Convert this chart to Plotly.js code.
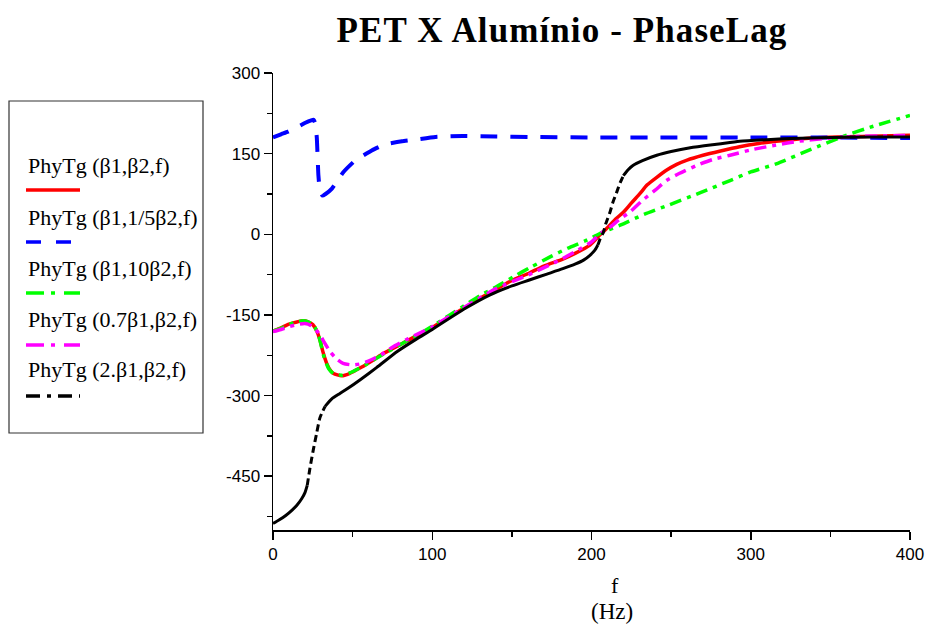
<!DOCTYPE html>
<html><head><meta charset="utf-8">
<script src="https://cdn.plot.ly/plotly-3.0.1.min.js"></script>
<style>
html,body{margin:0;padding:0;background:#fff}
#chart{width:925px;height:628px}
.gtitle{letter-spacing:1.1px}
</style>
</head><body><div id="chart"></div><script>
// ---- data ----
const seriesNames = ["PhyTg (β1,β2,f)", "PhyTg (β1,1/5β2,f)", "PhyTg (β1,10β2,f)", "PhyTg (0.7β1,β2,f)", "PhyTg (2.β1,β2,f)"];

const f_red = [0,5,10,15,19,22,25,27.5,29.5,31.5,33.7,36,38,43,48,52.5,58,63,68,73.5,80,90,100,110,120,130,140,150,161,170,182,190,199,205,210,215,220,225,230.5,235,241,247,253.5,260,270,281,293,305,316,330,345,370,400];
const y_red = [-180,-174,-167,-163,-161,-163,-168,-180,-197,-220,-240,-253,-259,-263,-259,-252,-243,-234,-224,-215,-205,-189,-173,-155,-137,-119,-102,-86,-72,-59,-46,-35,-20,-2,12,28,41,58,76,92,106,119,130,138,147,155,163,169,173,177,180,182,184];

const f_blue = [0,5,9.4,15,20,24,25.5,26.5,27.5,28.5,29.5,31,33,37,44,51.5,62,70,81,89,102,119,140,160,200,250,300,350,400];
const y_blue = [180,186,191,199,207,212,213,207,180,110,80,72,75,85,115,137,156,167,173,176,181,183,182,181,180,180,180,180,179];

const f_green = [0,5,10,15,19,23,26,29,32,35,38,43,48,53,58,63,70,80,90,100,110,120,130,140,151,162,174,185,197,205,218,233,249,268,287,300,316,337,358,377,400];
const y_green = [-180,-175,-168,-163,-161,-164,-171,-192,-228,-250,-259,-262,-258,-251,-243,-234,-222,-205,-189,-171,-152,-133,-114,-98,-79,-61,-42,-26,-11,1,17,37,55,77,100,116,131,157,182,201,221];

const f_mag = [0,5,10,15,20,24,27,29.5,32,35.8,40,44,50,55,59,64,69,75,85,100,120,140,160,180,190,200,205,212,218,224,232,240,247,255,266,276,287,300,316,330,346,370,400];
const y_mag = [-181,-177,-172,-168,-166,-170,-178,-187,-200,-218,-232,-240,-243,-241,-237,-230,-222,-210,-194,-172,-136,-101,-76,-48,-32,-14,0,14,29,41,63,82,100,113,128,139,147,157,166,173,178,182,184];

const f_blk = [0,4,8,12,15,18,20,21.5,23.2,25.3,27.4,29.5,32.7,36.9,42,47.3,55,65,78,90,100,120,136,150,161,172,182,190,195,199,202,204,205.5,207.5,209,211.6,213.5,215.8,218,220,223,226,232,241,250,262,280,293,310,325,350,375,400];
const y_blk = [-538,-531,-523,-513,-504,-492,-481,-467,-435,-401,-370,-341,-320,-306,-296,-286,-270,-248,-218,-195,-177,-139,-113,-96,-85,-74,-64,-55,-48,-39,-30,-20,-8,4,20,41,60,78,96,109,120,128,137,147,154,161,168,173,176,178,180,181,181];

const xTickVals = [0,100,200,300,400];
const yTickVals = [-450,-300,-150,0,150,300];

// ---- layout helpers ----
const PL = 273, PR = 910, PT = 73, PB = 530, W = 925, H = 628;
const px = v => (v - PL) / (PR - PL);
const py = v => (PB - v) / (PB - PT);
function part(fs, ys, lo, hi) {
  const x = [], y = [];
  for (let i = 0; i < fs.length; i++) if (fs[i] >= lo && fs[i] <= hi) { x.push(fs[i]); y.push(ys[i]); }
  return {x, y};
}

const colors = ["#ff0000", "#0000ff", "#00ff00", "#ff00ff", "#000000"];
const traces = [];
traces.push({x: f_red, y: y_red, mode: 'lines', line: {color: colors[0], width: 3.5, shape: 'spline', smoothing: 0.6}, name: seriesNames[0]});
traces.push({x: f_blue, y: y_blue, mode: 'lines', line: {color: colors[1], width: 4, dash: '17px,13px', shape: 'spline', smoothing: 0.4}, name: seriesNames[1]});
traces.push({x: f_green, y: y_green, mode: 'lines', line: {color: colors[2], width: 3.5, dash: '12px,6px,4px,6px', shape: 'spline', smoothing: 0.6}, name: seriesNames[2]});
traces.push({x: f_mag, y: y_mag, mode: 'lines', line: {color: colors[3], width: 3.5, dash: '12px,6px,4px,6px', shape: 'spline', smoothing: 0.6}, name: seriesNames[3]});
// black: solid where flat, dashed on the steep parts
[[0, 21.5, 'solid'], [21.5, 32.7, '7px,4px'], [32.7, 204, 'solid'], [204, 220, '7px,4px'], [220, 400, 'solid']].forEach(s => {
  const p = part(f_blk, y_blk, s[0], s[1]);
  traces.push({x: p.x, y: p.y, mode: 'lines', line: {color: colors[4], width: 3, dash: s[2], shape: 'spline', smoothing: 0.6}, name: seriesNames[4]});
});

// legend drawn as a box with text above a line sample
const legTextY = [165.6, 217.6, 268.6, 319.6, 369.6];
const legLineY = [190, 242, 293, 345, 396];
const legDash = ['solid', '15px,15px', '18px,7px,4px,9px', '18px,7px,4px,9px', '14px,7px,4px,7px'];
const shapes = [{type: 'rect', xref: 'paper', yref: 'paper', x0: px(9), x1: px(203), y0: py(101), y1: py(433), line: {color: '#333', width: 1.2}, fillcolor: 'rgba(0,0,0,0)'}];
const annotations = [];
seriesNames.forEach((n, i) => {
  annotations.push({xref: 'paper', yref: 'paper', x: px(26), y: py(legTextY[i]), xanchor: 'left', yanchor: 'middle', text: n, showarrow: false, font: {family: 'Liberation Serif, Times New Roman, serif', size: 22, color: '#000'}});
  shapes.push({type: 'line', xref: 'paper', yref: 'paper', x0: px(26), x1: px(80), y0: py(legLineY[i]), y1: py(legLineY[i]), line: {color: colors[i], width: 3.5, dash: legDash[i]}});
});
annotations.push({xref: 'paper', yref: 'paper', x: px(615), y: py(585), xanchor: 'center', yanchor: 'middle', text: 'f', showarrow: false, font: {family: 'Liberation Serif, Times New Roman, serif', size: 22, color: '#000'}});
annotations.push({xref: 'paper', yref: 'paper', x: px(612), y: py(611), xanchor: 'center', yanchor: 'middle', text: '(Hz)', showarrow: false, font: {family: 'Liberation Serif, Times New Roman, serif', size: 23, color: '#000'}});

const axisCommon = {
  showgrid: false, zeroline: false, showline: true, linecolor: '#000', linewidth: 1.5,
  ticks: 'outside', ticklen: 8, tickwidth: 1.5, tickcolor: '#000',
  tickfont: {family: 'Liberation Sans, Arial, sans-serif', size: 17, color: '#000'},
  mirror: false
};

const layout = {
  width: W, height: H,
  margin: {l: PL, r: W - PR, t: PT, b: H - PB, pad: 0},
  paper_bgcolor: '#fff', plot_bgcolor: '#fff',
  showlegend: false,
  title: {text: '<b>PET X Alumínio - PhaseLag</b>', x: 562 / W, xanchor: 'center', xref: 'container', y: 1 - 30 / H, yanchor: 'middle', yref: 'container',
          font: {family: 'Liberation Serif, Times New Roman, serif', size: 35, color: '#000'}},
  xaxis: Object.assign({}, axisCommon, {range: [0, 400], tickvals: xTickVals, ticktext: xTickVals.map(String),
          minor: {dtick: 50, tick0: 0, ticks: 'outside', ticklen: 5, tickwidth: 1.5, tickcolor: '#000', showgrid: false}}),
  yaxis: Object.assign({}, axisCommon, {range: [-550, 300], tickvals: yTickVals, ticktext: yTickVals.map(String),
          minor: {dtick: 75, tick0: 0, ticks: 'outside', ticklen: 5, tickwidth: 1.5, tickcolor: '#000', showgrid: false}}),
  shapes: shapes,
  annotations: annotations
};

Plotly.newPlot('chart', traces, layout, {displayModeBar: false, staticPlot: true});
</script></body></html>
